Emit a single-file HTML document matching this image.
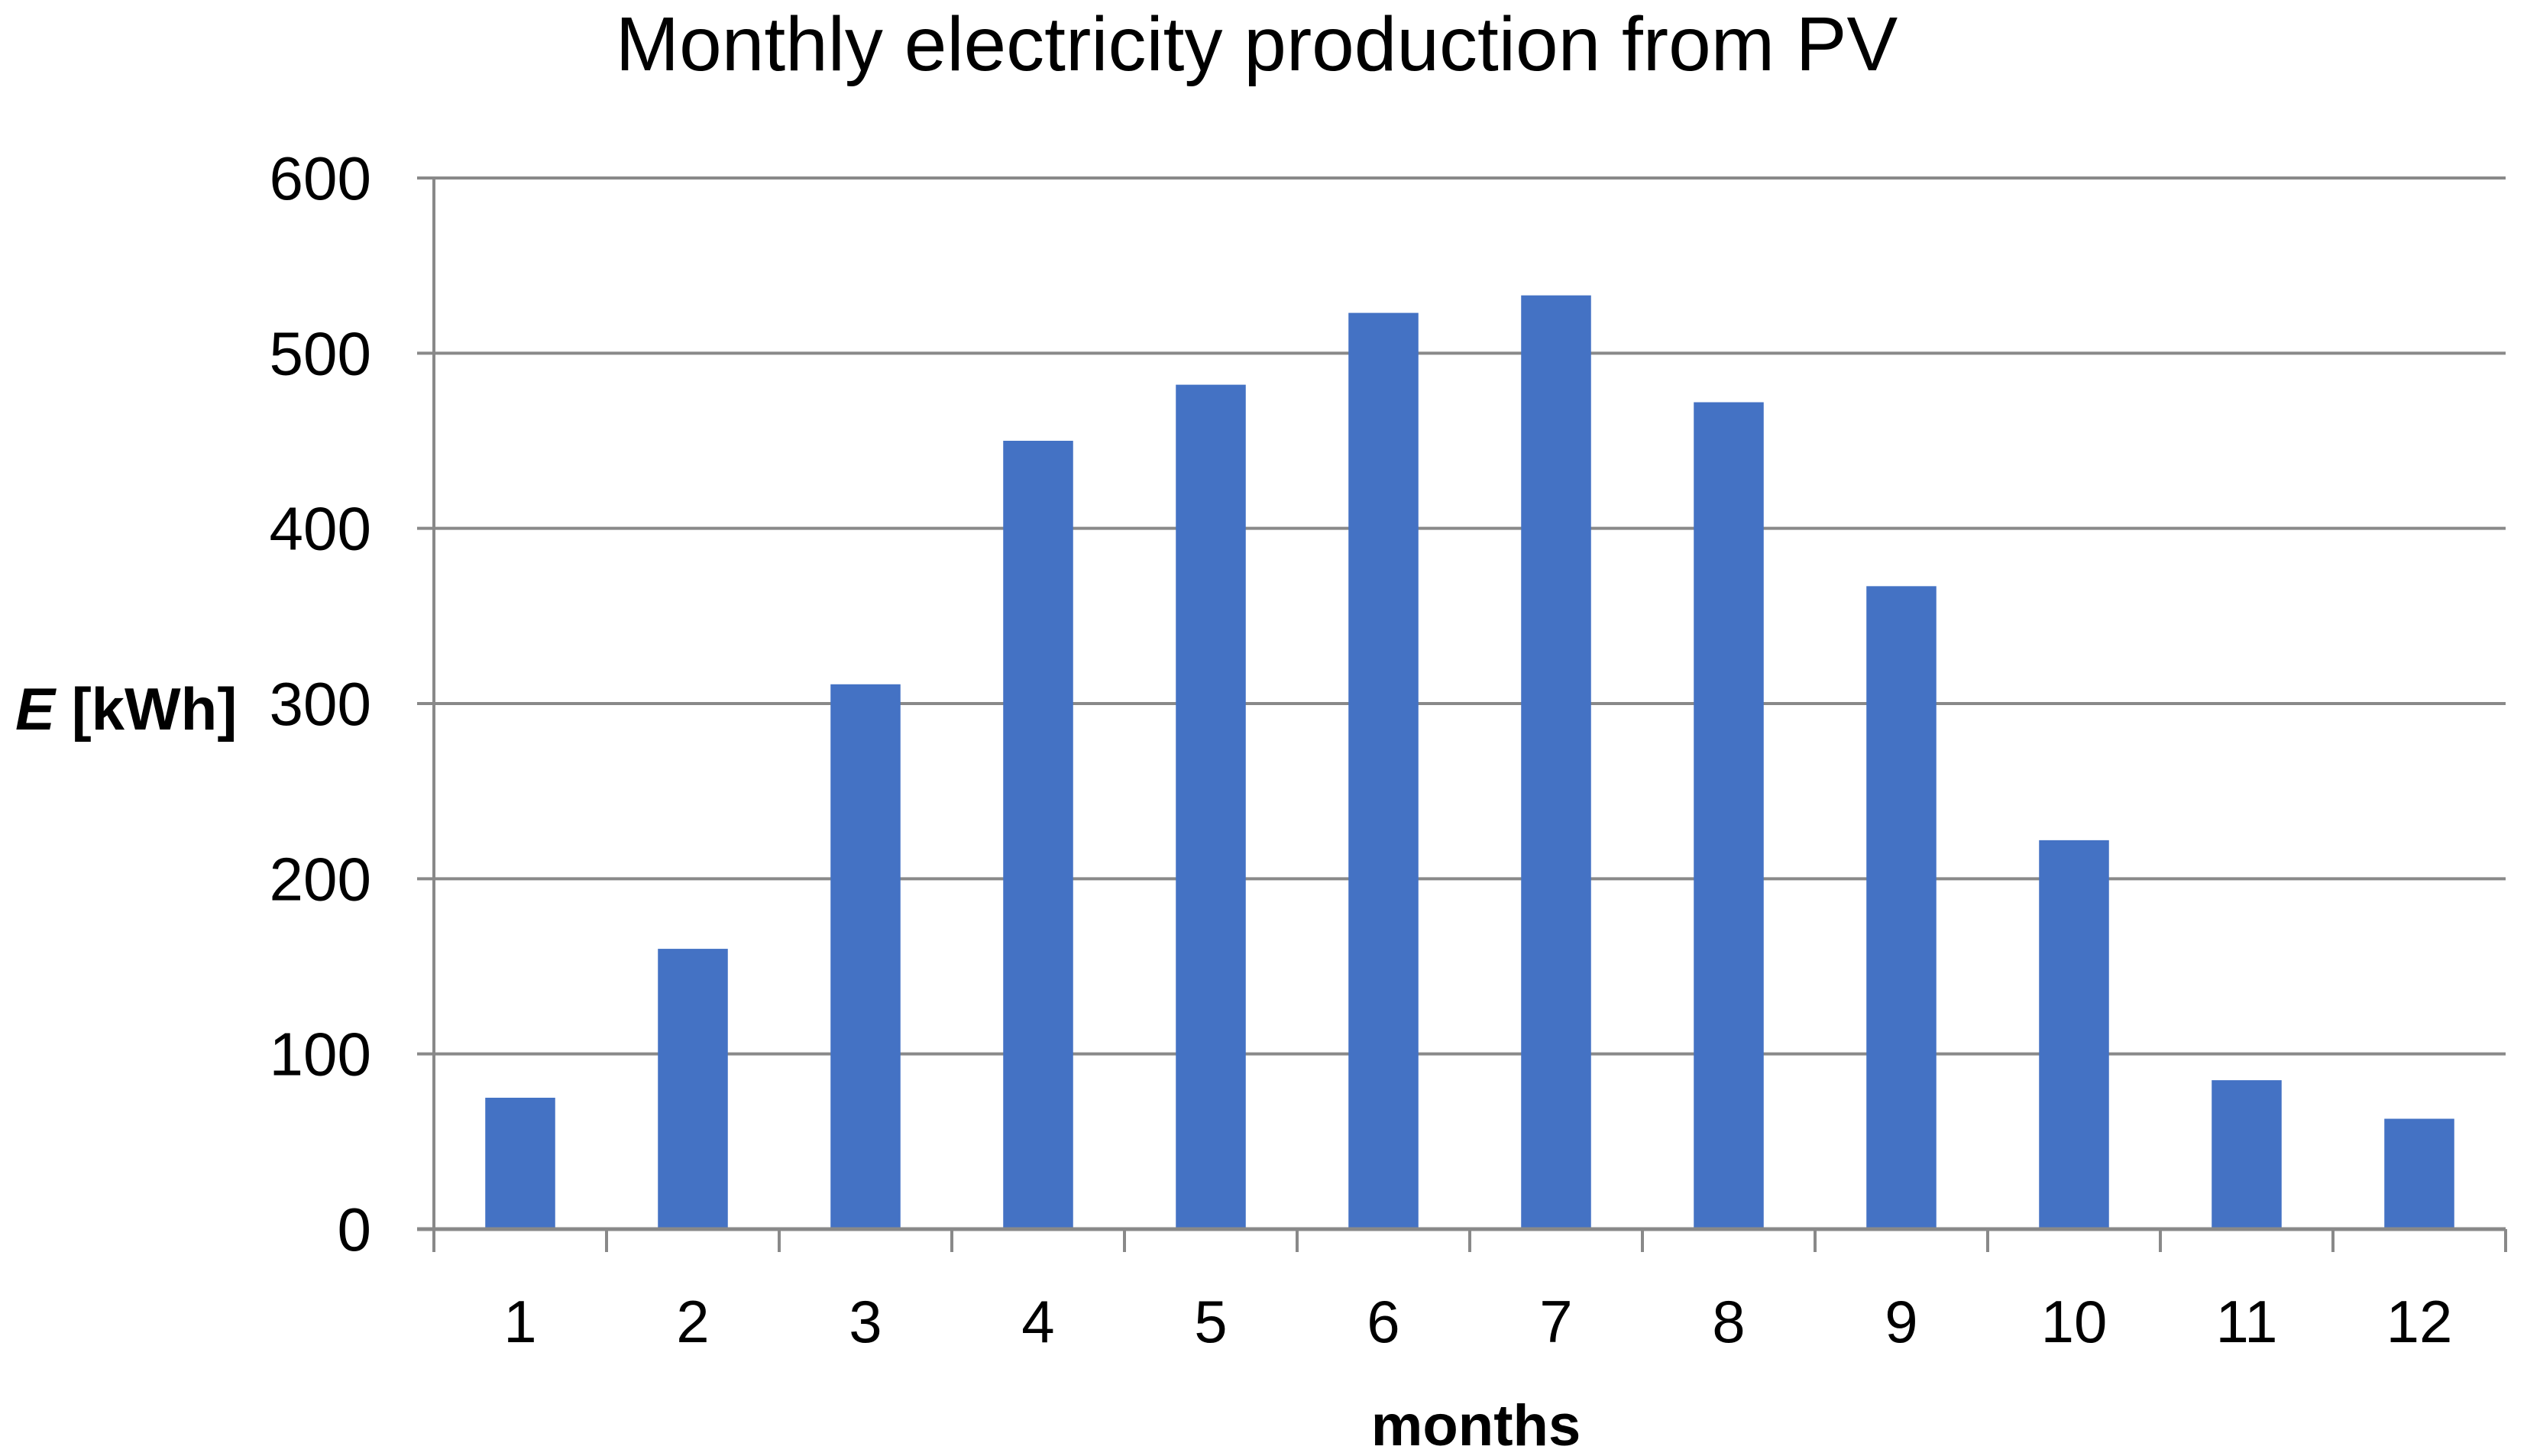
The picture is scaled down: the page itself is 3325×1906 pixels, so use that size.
<!DOCTYPE html>
<html><head><meta charset="utf-8"><style>
html,body{margin:0;padding:0;background:#fff;}
svg{display:block;font-family:"Liberation Sans",sans-serif;}
</style></head><body>
<svg id="chart" width="3325" height="1906" viewBox="0 0 3325 1906">
<text x="1645" y="92" font-size="100" text-anchor="middle" fill="#000">Monthly electricity production from PV</text>
<text x="20" y="955" font-size="78" font-weight="bold" fill="#000"><tspan font-style="italic">E</tspan> [kWh]</text>
<text x="1932" y="1892" font-size="76" font-weight="bold" text-anchor="middle" fill="#000">months</text>
<g id="grid"></g><g id="bars"></g><g id="axes"></g>
</svg>
<script>
const categories = ["1","2","3","4","5","6","7","8","9","10","11","12"];
const values = [75, 160, 311, 450, 482, 523, 533, 472, 367, 222, 85, 63];
const yTicks = [0, 100, 200, 300, 400, 500, 600];
const NS = "http://www.w3.org/2000/svg";
const X0 = 568, X1 = 3280, Y0 = 1609, Y1 = 233, YMAX = 600;
const slot = (X1 - X0) / categories.length;
const y = v => Y0 - (v / YMAX) * (Y0 - Y1);
const xc = i => X0 + slot * (i + 0.5);
function mk(tag, attrs, parent){const e=document.createElementNS(NS,tag);for(const k in attrs)e.setAttribute(k,attrs[k]);parent.appendChild(e);return e;}
const grid=document.getElementById('grid'), bars=document.getElementById('bars'), axes=document.getElementById('axes');
yTicks.forEach(t=>{
  const l=mk('line',{x1:X0-22,x2:X1,y1:y(t),y2:y(t),stroke:'#898989','stroke-width':4},grid);
  
  
  const tx=mk('text',{x:486,y:y(t)+28,'font-size':80,'text-anchor':'end',fill:'#000'},axes);
  tx.textContent=t;
  
  
});
const bw = slot*0.405;
values.forEach((v,i)=>{
  const r=mk('rect',{x:xc(i)-bw/2,y:y(v),width:bw,height:Y0-y(v),fill:'#4472c4'},bars);
  
  
  const tx=mk('text',{x:xc(i),y:1757,'font-size':78,'text-anchor':'middle',fill:'#000'},axes);
  tx.textContent=categories[i];
  
  
});
for(let i=0;i<=categories.length;i++){
  const t=mk('line',{x1:X0+slot*i,x2:X0+slot*i,y1:Y0,y2:Y0+30,stroke:'#898989','stroke-width':4},axes);
  
  
}
const ya=mk('line',{x1:X0,x2:X0,y1:Y1,y2:Y0+30,stroke:'#898989','stroke-width':4},axes);


const xa=mk('line',{x1:X0-22,x2:X1,y1:Y0,y2:Y0,stroke:'#898989','stroke-width':5},axes);


</script>
</body></html>
